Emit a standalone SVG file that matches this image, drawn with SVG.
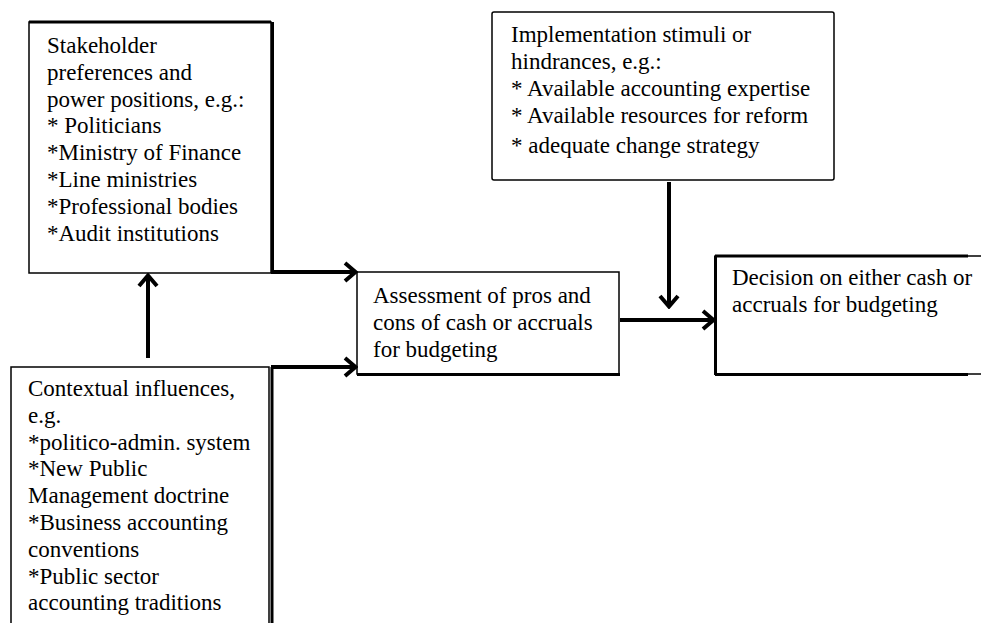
<svg xmlns="http://www.w3.org/2000/svg" width="981" height="623" viewBox="0 0 981 623">
  <style>
    .box { fill: #fff; stroke: #000; stroke-width: 1.5; }
    .shadow { fill: none; stroke: #000; stroke-width: 3; }
    .t { font-family: "Liberation Serif", "Times New Roman", serif; font-size: 23px; fill: #000; }
    .conn { fill: none; stroke: #000; stroke-width: 4; marker-end: url(#arrow); }
  </style>
  <defs>
    <marker id="arrow" viewBox="0 0 16 22" refX="14" refY="11" markerWidth="16" markerHeight="22" markerUnits="userSpaceOnUse" orient="auto">
      <path d="M3,2 L13.5,11 L3,20" fill="none" stroke="#000" stroke-width="4"/>
    </marker>
  </defs>
  <rect width="981" height="623" fill="#fff"/>

  <g id="stakeholders">
    <rect class="box" x="29" y="22" width="242" height="251"/>
    <line class="shadow" x1="29" y1="22" x2="271" y2="22" stroke-width="2.5"/>
    <line class="shadow" x1="272.5" y1="22" x2="272.5" y2="273"/>
    <text class="t" x="47">
      <tspan x="47" y="53">Stakeholder</tspan>
      <tspan x="47" y="80">preferences and</tspan>
      <tspan x="47" y="107">power positions, e.g.:</tspan>
      <tspan x="47" y="133">* Politicians</tspan>
      <tspan x="47" y="160">*Ministry of Finance</tspan>
      <tspan x="47" y="187">*Line ministries</tspan>
      <tspan x="47" y="214">*Professional bodies</tspan>
      <tspan x="47" y="241">*Audit institutions</tspan>
    </text>
  </g>

  <g id="implementation">
    <rect class="box" x="492" y="12" width="342" height="168" rx="2" stroke-width="3"/>
    <text class="t">
      <tspan x="511" y="42">Implementation stimuli or</tspan>
      <tspan x="511" y="69">hindrances, e.g.:</tspan>
      <tspan x="511" y="96">* Available accounting expertise</tspan>
      <tspan x="511" y="123">* Available resources for reform</tspan>
      <tspan x="511" y="153">* adequate change strategy</tspan>
    </text>
  </g>

  <g id="assessment">
    <rect class="box" x="357" y="272" width="262" height="102"/>
    <line class="shadow" x1="357" y1="374.5" x2="620" y2="374.5" stroke-width="2"/>
    <text class="t">
      <tspan x="373" y="303">Assessment of pros and</tspan>
      <tspan x="373" y="330">cons of cash or accruals</tspan>
      <tspan x="373" y="357">for budgeting</tspan>
    </text>
  </g>

  <g id="decision">
    <rect class="box" x="715" y="256" width="275" height="118"/>
    <line class="shadow" x1="715.5" y1="256" x2="715.5" y2="375" stroke-width="2.5"/>
    <line class="shadow" x1="715" y1="374.5" x2="968" y2="374.5" stroke-width="2.5"/>
    <line class="shadow" x1="715" y1="256" x2="968" y2="256" stroke-width="2"/>
    <text class="t">
      <tspan x="732" y="285">Decision on either cash or</tspan>
      <tspan x="732" y="312">accruals for budgeting</tspan>
    </text>
  </g>

  <g id="context">
    <rect class="box" x="11" y="367" width="258" height="270"/>
    <line class="shadow" x1="272" y1="367" x2="272" y2="623"/>
    <text class="t">
      <tspan x="28" y="396">Contextual influences,</tspan>
      <tspan x="28" y="423">e.g.</tspan>
      <tspan x="28" y="450">*politico-admin. system</tspan>
      <tspan x="28" y="476">*New Public</tspan>
      <tspan x="28" y="503">Management doctrine</tspan>
      <tspan x="28" y="530">*Business accounting</tspan>
      <tspan x="28" y="557">conventions</tspan>
      <tspan x="28" y="584">*Public sector</tspan>
      <tspan x="28" y="610">accounting traditions</tspan>
    </text>
  </g>

  <g id="connectors">
    <line class="conn" x1="271" y1="272" x2="356" y2="272"/>
    <line class="conn" x1="271" y1="367" x2="356" y2="367"/>
    <line class="conn" x1="148" y1="358" x2="148" y2="275"/>
    <line class="conn" x1="669" y1="182" x2="669" y2="307"/>
    <line class="conn" x1="620" y1="320" x2="714" y2="320"/>
  </g>
</svg>
